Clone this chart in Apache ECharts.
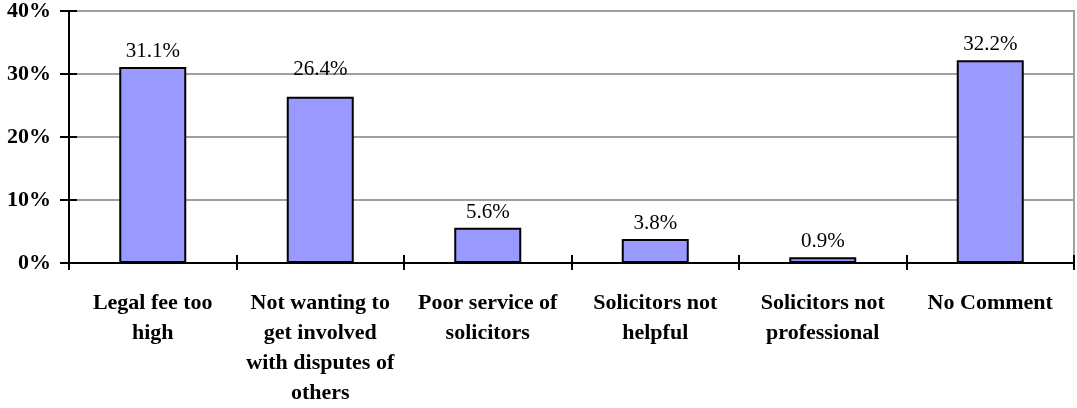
<!DOCTYPE html>
<html>
<head>
<meta charset="utf-8">
<script src="https://cdn.jsdelivr.net/npm/echarts@6/dist/echarts.min.js"></script>
<style>
html,body{margin:0;padding:0;background:#fff;}
#chart{width:1077px;height:408px;}
</style>
</head>
<body>
<div id="chart"></div>
<script>
const categories = [
  "Legal fee too\nhigh",
  "Not wanting to\nget involved\nwith disputes of\nothers",
  "Poor service of\nsolicitors",
  "Solicitors not\nhelpful",
  "Solicitors not\nprofessional",
  "No Comment"
];
const values = [31.1, 26.4, 5.6, 3.8, 0.9, 32.2];
const yTicks = [0, 10, 20, 30, 40];

const FONT = '"Liberation Serif", "Times New Roman", serif';
const chart = echarts.init(document.getElementById('chart'), null, {renderer: 'canvas'});

const yMin = yTicks[0], yMax = yTicks[yTicks.length - 1], yInt = yTicks[1] - yTicks[0];

chart.setOption({
  animation: false,
  backgroundColor: '#ffffff',
  grid: {
    left: 69, right: 3, top: 11, bottom: 145,
    show: true, borderColor: '#a0a0a0', borderWidth: 2, backgroundColor: 'transparent'
  },
  xAxis: [{
    type: 'category',
    data: categories,
    position: 'bottom',
    axisLine: {lineStyle: {color: '#000', width: 2}},
    axisTick: {show: true, length: 7, inside: false, lineStyle: {color: '#000', width: 2}},
    axisLabel: {
      interval: 0, margin: 25,
      fontFamily: FONT, fontWeight: 'bold', fontSize: 22, color: '#000',
      lineHeight: 30, align: 'center'
    },
    splitLine: {show: false}
  }, {
    type: 'category',
    data: categories,
    position: 'bottom',
    axisLine: {show: false},
    axisTick: {show: true, length: 8, inside: true, lineStyle: {color: '#000', width: 2}},
    axisLabel: {show: false},
    splitLine: {show: false}
  }],
  yAxis: [{
    type: 'value',
    min: yMin, max: yMax, interval: yInt,
    axisLine: {show: true, lineStyle: {color: '#000', width: 2}},
    axisTick: {show: true, length: 9, inside: false, lineStyle: {color: '#000', width: 2}},
    axisLabel: {
      margin: 18, formatter: v => v + '%',
      fontFamily: FONT, fontWeight: 'bold', fontSize: 22, color: '#000'
    },
    splitLine: {show: true, lineStyle: {color: '#a0a0a0', width: 2}}
  }, {
    type: 'value',
    position: 'left',
    min: yMin, max: yMax, interval: yInt,
    axisLine: {show: false},
    axisTick: {show: true, length: 8, inside: true, lineStyle: {color: '#000', width: 2}},
    axisLabel: {show: false},
    splitLine: {show: false}
  }],
  series: [{
    type: 'bar',
    xAxisIndex: 0,
    yAxisIndex: 0,
    data: values.map((v, i) => i === 1 ? {value: v, label: {distance: 17}} : v),
    barCategoryGap: '60%',
    itemStyle: {color: '#9999ff', borderColor: '#000', borderWidth: 2},
    label: {
      show: true, position: 'top', distance: 5,
      formatter: p => p.value.toFixed(1) + '%',
      fontFamily: FONT, fontSize: 21, color: '#000'
    },
    z: 3
  }]
});
</script>
</body>
</html>
